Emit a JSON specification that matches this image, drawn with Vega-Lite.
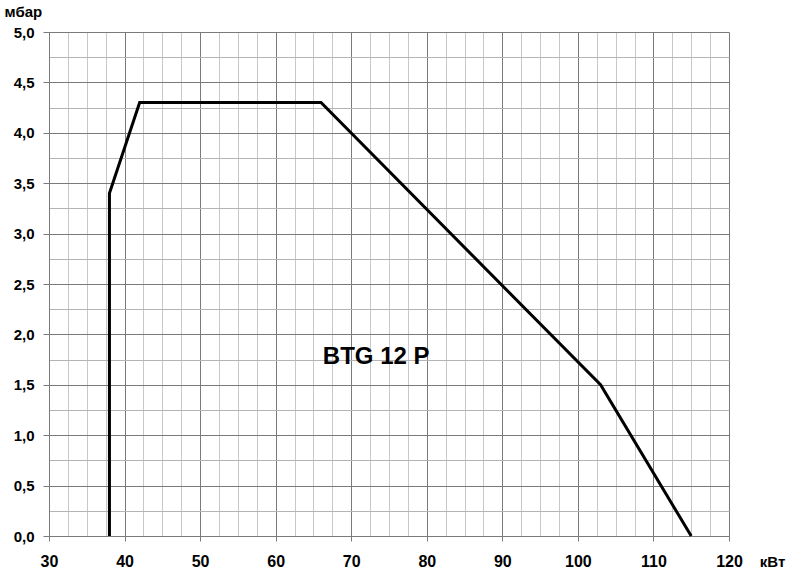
{
  "$schema": "https://vega.github.io/schema/vega-lite/v6.json",
  "autosize": "none",
  "width": 680,
  "height": 504,
  "padding": {"left": 49, "top": 32, "right": 65, "bottom": 39},
  "background": "white",
  "config": {
    "view": {"stroke": null},
    "font": "Liberation Sans",
    "axis": {"labelFont": "Liberation Sans", "titleFont": "Liberation Sans", "labelFlush": false}
  },
  "datasets": {
    "curve": [
      {"kw": 38, "mbar": 0},
      {"kw": 38, "mbar": 3.4},
      {"kw": 42, "mbar": 4.3},
      {"kw": 66, "mbar": 4.3},
      {"kw": 103, "mbar": 1.5},
      {"kw": 115, "mbar": 0}
    ],
    "label": [{"kw": 73.3, "mbar": 1.78, "text": "BTG 12 P"}]
  },
  "layer": [
    {
      "data": {"name": "curve"},
      "mark": {"type": "line", "opacity": 0},
      "encoding": {
        "x": {
          "field": "kw", "type": "quantitative",
          "scale": {"domain": [30, 120], "nice": false, "zero": false},
          "axis": {
            "orient": "top",
            "values": [32.5, 35, 37.5, 42.5, 45, 47.5, 52.5, 55, 57.5, 62.5, 65, 67.5, 72.5, 75, 77.5, 82.5, 85, 87.5, 92.5, 95, 97.5, 102.5, 105, 107.5, 112.5, 115, 117.5],
            "grid": true, "gridColor": "#c8c8c8", "gridWidth": 1,
            "labels": false, "ticks": false, "domain": false, "title": null
          }
        },
        "y": {
          "field": "mbar", "type": "quantitative",
          "scale": {"domain": [0, 5], "nice": false},
          "axis": {
            "orient": "right",
            "values": [0.25, 0.75, 1.25, 1.75, 2.25, 2.75, 3.25, 3.75, 4.25, 4.75],
            "grid": true, "gridColor": "#b4b4b4", "gridWidth": 1,
            "labels": false, "ticks": false, "domain": false, "title": null
          }
        }
      }
    },
    {
      "data": {"name": "curve"},
      "mark": {"type": "line", "color": "black", "strokeWidth": 3, "strokeJoin": "miter"},
      "encoding": {
        "x": {
          "field": "kw", "type": "quantitative",
          "scale": {"domain": [30, 120], "nice": false, "zero": false},
          "axis": {
            "orient": "bottom",
            "values": [30, 40, 50, 60, 70, 80, 90, 100, 110, 120],
            "labelFlush": false,
            "grid": true, "gridColor": "#7a7a7a", "gridWidth": 1,
            "domain": true, "domainColor": "#7a7a7a",
            "ticks": true, "tickSize": 5, "tickColor": "#7a7a7a",
            "labelFontSize": 16, "labelFontWeight": "bold", "labelColor": "black", "labelPadding": 12,
            "title": "кВт", "titleFontSize": 15, "titleFontWeight": "bold", "titleColor": "black",
            "titleAngle": 0, "titleAlign": "center", "titleBaseline": "middle",
            "titleX": 723, "titleY": 25
          }
        },
        "y": {
          "field": "mbar", "type": "quantitative",
          "scale": {"domain": [0, 5], "nice": false},
          "axis": {
            "orient": "left",
            "values": [0, 0.5, 1, 1.5, 2, 2.5, 3, 3.5, 4, 4.5, 5],
            "labelFlush": false,
            "labelExpr": "replace(format(datum.value, '.1f'), '.', ',')",
            "grid": true, "gridColor": "#7a7a7a", "gridWidth": 1,
            "domain": true, "domainColor": "#7a7a7a",
            "ticks": true, "tickSize": 6, "tickColor": "#7a7a7a",
            "labelFontSize": 15, "labelFontWeight": "bold", "labelColor": "black", "labelPadding": 9,
            "title": "мбар", "titleFontSize": 15, "titleFontWeight": "bold", "titleColor": "black",
            "titleAngle": 0, "titleAlign": "left", "titleBaseline": "middle",
            "titleX": -45, "titleY": -21
          }
        }
      }
    },
    {
      "data": {"name": "label"},
      "mark": {"type": "text", "fontSize": 24, "fontWeight": "bold", "color": "black", "align": "center", "baseline": "middle"},
      "encoding": {
        "x": {"field": "kw", "type": "quantitative", "axis": null},
        "y": {"field": "mbar", "type": "quantitative", "axis": null},
        "text": {"field": "text"}
      }
    }
  ],
  "resolve": {"axis": {"x": "independent", "y": "independent"}}
}
